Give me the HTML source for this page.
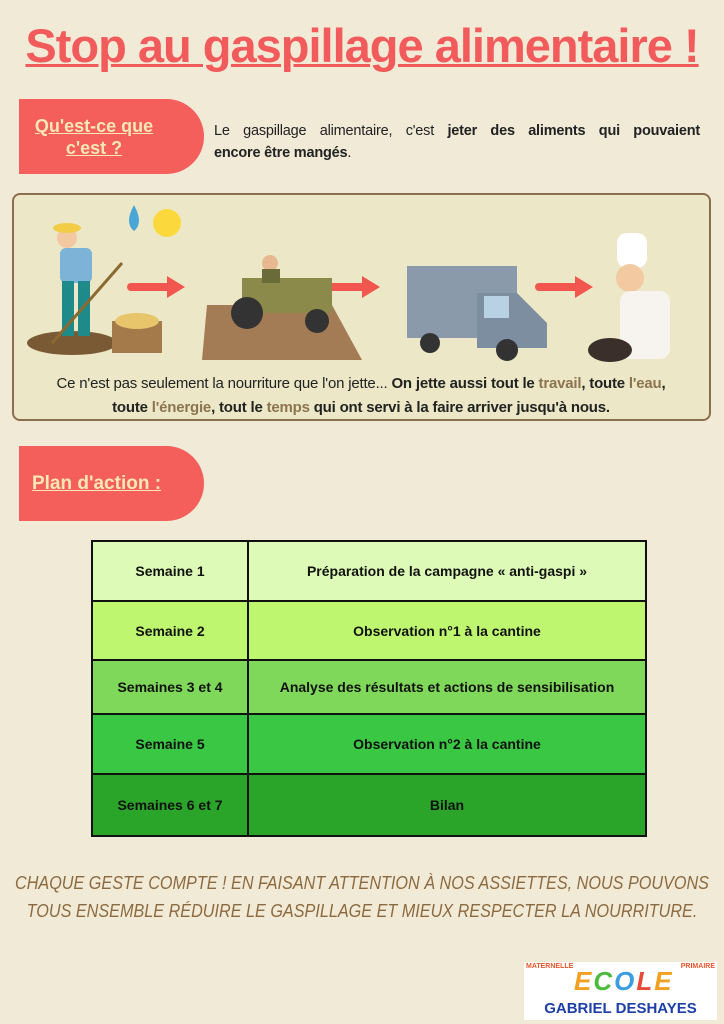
<!DOCTYPE html>
<html><head><meta charset="utf-8"><style>
body{margin:0;width:724px;height:1024px;background:#f1ead6;position:relative;font-family:"Liberation Sans",sans-serif;overflow:hidden}
.abs{position:absolute}
h1{position:absolute;left:-50px;width:824px;top:18px;margin:0;text-align:center;font-family:"Liberation Sans",sans-serif;font-weight:bold;font-size:47px;color:#f25b5b;text-decoration:underline;text-decoration-thickness:3px;letter-spacing:-1px;white-space:nowrap}
.tab{position:absolute;background:#f45f5c;border-radius:0 40px 40px 0;color:#f6e7b4;font-weight:bold;text-decoration:underline;text-align:center}
table{position:absolute;left:91px;top:540px;width:556px;border-collapse:collapse;font-weight:bold;font-size:14px;color:#111}
td{border:2px solid #111;text-align:center;padding:0}
</style></head><body>
<h1>Stop au gaspillage alimentaire !</h1>
<div class="tab" style="left:19px;top:99px;width:185px;height:75px;font-size:18px;line-height:22px;padding-top:16px;box-sizing:border-box;padding-right:35px">Qu'est-ce que<br>c'est ?</div>
<div class="abs" style="left:214px;top:120px;width:486px;font-size:14.5px;line-height:22px;color:#222;letter-spacing:-0.2px"><div style="text-align:justify;text-align-last:justify">Le gaspillage alimentaire, c'est <b>jeter des aliments qui pouvaient</b></div><div><b>encore être mangés</b>.</div></div>

<div class="abs" style="left:12px;top:193px;width:699px;height:228px;background:#ece7c6;border:2px solid #8d6e4d;border-radius:8px;box-sizing:border-box"></div>
<svg class="abs" style="left:12px;top:193px" width="700" height="230">
<ellipse cx="60" cy="150" rx="45" ry="12" fill="#7a5a35"/>
<circle cx="155" cy="30" r="14" fill="#fbd93c"/>
<path d="M122 12 q-10 18 0 26 q10 -8 0 -26z" fill="#4aa6d6"/>
<rect x="48" y="55" width="32" height="35" rx="6" fill="#7cb3d6"/>
<circle cx="55" cy="45" r="10" fill="#f2c9a0"/><ellipse cx="55" cy="35" rx="14" ry="5" fill="#f2cc45"/>
<rect x="50" y="88" width="12" height="55" fill="#1f8a8a"/><rect x="66" y="88" width="12" height="55" fill="#1f8a8a"/>
<line x1="40" y1="150" x2="110" y2="70" stroke="#8a6a30" stroke-width="3"/>
<rect x="100" y="128" width="50" height="32" fill="#a57a4a"/><ellipse cx="125" cy="128" rx="22" ry="8" fill="#e8c46a"/>
<g fill="#f2574f"><rect x="115" y="90" width="45" height="8" rx="4"/><path d="M155 83 l18 11 l-18 11z"/>
<rect x="310" y="90" width="45" height="8" rx="4"/><path d="M350 83 l18 11 l-18 11z"/>
<rect x="523" y="90" width="45" height="8" rx="4"/><path d="M563 83 l18 11 l-18 11z"/></g>
<path d="M195 112 h125 l30 55 h-160z" fill="#a37c55"/>
<rect x="230" y="85" width="90" height="35" fill="#8b8a4a"/><circle cx="235" cy="120" r="16" fill="#333"/><circle cx="305" cy="128" r="12" fill="#333"/>
<circle cx="258" cy="70" r="8" fill="#e8b890"/><rect x="250" y="76" width="18" height="14" fill="#6b6b3a"/>
<rect x="395" y="73" width="110" height="72" fill="#8a9aab"/><path d="M465 100 h40 l30 30 v25 h-70z" fill="#7d8ea0"/><rect x="472" y="103" width="25" height="22" fill="#b8d2e4"/>
<circle cx="418" cy="150" r="10" fill="#333"/><circle cx="495" cy="157" r="11" fill="#333"/>
<rect x="605" y="40" width="30" height="35" rx="10" fill="#fff"/><circle cx="618" cy="85" r="14" fill="#f2c9a0"/>
<rect x="608" y="98" width="50" height="68" rx="10" fill="#f7f3ee"/><ellipse cx="598" cy="157" rx="22" ry="12" fill="#3a2f2a"/>
</svg>
<div class="abs" style="left:6px;top:372px;width:710px;text-align:center;font-size:15px;line-height:24px;color:#222;letter-spacing:-0.2px;white-space:nowrap">Ce n'est pas seulement la nourriture que l'on jette... <b>On jette aussi tout le <span style="color:#8c7450">travail</span>, toute <span style="color:#8c7450">l'eau</span>,<br>toute <span style="color:#8c7450">l'énergie</span>, tout le <span style="color:#8c7450">temps</span> qui ont servi à la faire arriver jusqu'à nous.</b></div>

<div class="tab" style="left:19px;top:446px;width:185px;height:75px;font-size:19px;line-height:75px;padding-right:30px;box-sizing:border-box">Plan d'action :</div>

<table>
<tr style="height:60px;background:#ddfbb6"><td style="width:154px">Semaine 1</td><td>Préparation de la campagne « anti-gaspi »</td></tr>
<tr style="height:59px;background:#bff66f"><td>Semaine 2</td><td>Observation n°1 à la cantine</td></tr>
<tr style="height:54px;background:#7fd85a"><td>Semaines 3 et 4</td><td>Analyse des résultats et actions de sensibilisation</td></tr>
<tr style="height:60px;background:#3ac743"><td>Semaine 5</td><td>Observation n°2 à la cantine</td></tr>
<tr style="height:62px;background:#2aa52a"><td>Semaines 6 et 7</td><td>Bilan</td></tr>
</table>

<div class="abs" style="left:-100px;width:924px;top:869px;text-align:center;font-size:18px;line-height:28px;color:#8c6a40;font-style:italic;white-space:nowrap;transform:scaleX(0.9)">CHAQUE GESTE COMPTE ! EN FAISANT ATTENTION À NOS ASSIETTES, NOUS POUVONS<br>TOUS ENSEMBLE RÉDUIRE LE GASPILLAGE ET MIEUX RESPECTER LA NOURRITURE.</div>

<div class="abs" style="left:524px;top:962px;width:193px;height:58px;background:#fff">
<div class="abs" style="left:2px;top:1px;font-size:7px;font-weight:bold;color:#e8552a">MATERNELLE</div>
<div class="abs" style="right:2px;top:1px;font-size:7px;font-weight:bold;color:#e8552a">PRIMAIRE</div>
<div class="abs" style="left:50px;top:4px;font-size:26px;font-weight:bold;font-style:italic;letter-spacing:2px"><span style="color:#f2a020">E</span><span style="color:#4cbb3c">C</span><span style="color:#3a9ee0">O</span><span style="color:#e84a3a">L</span><span style="color:#f2a020">E</span></div>
<div class="abs" style="left:0;width:193px;top:38px;text-align:center;font-size:15px;font-weight:bold;color:#1d3fa8">GABRIEL DESHAYES</div>
</div>
</body></html>
